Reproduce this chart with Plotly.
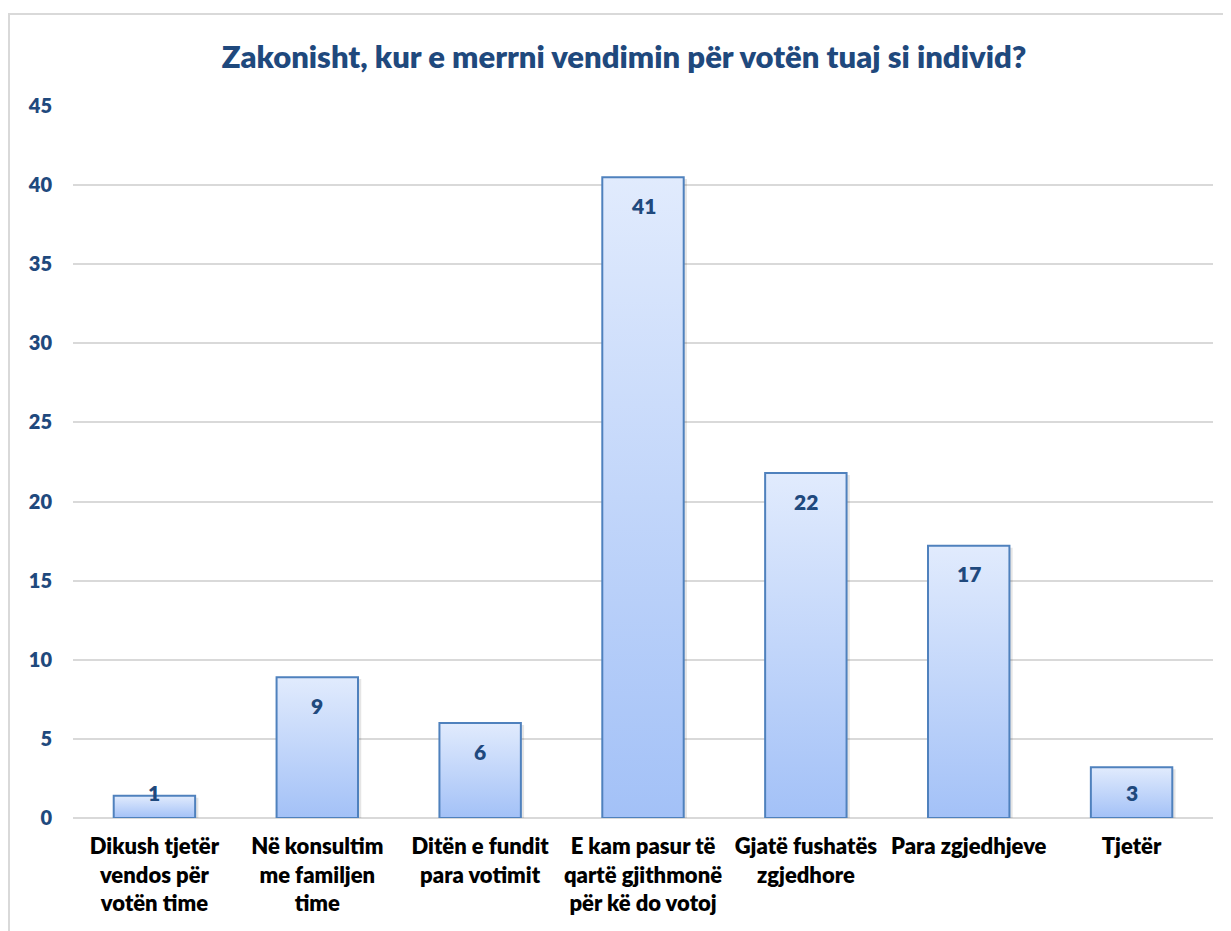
import plotly.graph_objects as go

categories = [
    "Dikush tjetër<br>vendos për<br>votën time",
    "Në konsultim<br>me familjen<br>time",
    "Ditën e fundit<br>para votimit",
    "E kam pasur të<br>qartë gjithmonë<br>për kë do votoj",
    "Gjatë fushatës<br>zgjedhore",
    "Para zgjedhjeve",
    "Tjetër",
]
values = [1.4, 8.9, 6.0, 40.5, 21.8, 17.2, 3.2]
labels = ["1", "9", "6", "41", "22", "17", "3"]
y_ticks = [0, 5, 10, 15, 20, 25, 30, 35, 40, 45]
title_text = "Zakonisht, kur e merrni vendimin për votën tuaj si individ?"

DARK_BLUE = "#1F497D"
BORDER = "#4F81BD"
GRID = "#D9D9D9"
FONT = "Lato"
WEIGHT = 800
BAR_W = 0.5

W, H = 1223, 923

fig = go.Figure()
for i, v in enumerate(values):
    x0, x1 = i - BAR_W / 2, i + BAR_W / 2
    # subtle shadow
    fig.add_trace(go.Scatter(
        x=[x0 + 0.02, x0 + 0.02, x1 + 0.02, x1 + 0.02, x0 + 0.02],
        y=[0, v - 0.12, v - 0.12, 0, 0],
        fill="toself", fillcolor="rgba(0,0,0,0.10)",
        line=dict(width=0), mode="lines", hoverinfo="skip", showlegend=False,
    ))
    fig.add_trace(go.Scatter(
        x=[x0, x0, x1, x1, x0],
        y=[0, v, v, 0, 0],
        fill="toself",
        fillgradient=dict(type="vertical",
                          colorscale=[[0, "#A3C1F7"], [1, "#E1EBFD"]]),
        line=dict(color=BORDER, width=2),
        mode="lines", hoverinfo="skip", showlegend=False,
    ))
    fig.add_annotation(
        x=i, y=max(v - 1.77, 1.64), text=labels[i], showarrow=False,
        xanchor="center", yanchor="middle",
        font=dict(family=FONT, size=21, color=DARK_BLUE, weight=WEIGHT),
    )

fig.update_layout(
    width=W, height=H,
    paper_bgcolor="white", plot_bgcolor="white",
    margin=dict(l=65, r=18, t=98, b=113),
    title=dict(text=title_text, x=616 / W, xref="container", xanchor="center",
               y=1 - 49 / H, yref="container", yanchor="middle",
               font=dict(family=FONT, size=31, color=DARK_BLUE, weight=WEIGHT)),
    xaxis=dict(range=[-0.5, len(values) - 0.5], tickmode="array",
               tickvals=list(range(len(values))), ticktext=categories,
               showgrid=False, zeroline=False, showline=False, ticks="",
               ticklabelstandoff=13,
               tickfont=dict(family=FONT, size=22, color="black", weight=WEIGHT),
               fixedrange=True),
    yaxis=dict(range=[0, 45], tickmode="array", tickvals=y_ticks,
               showgrid=True, gridcolor=GRID, gridwidth=2,
               zeroline=True, zerolinecolor=GRID, zerolinewidth=2,
               showline=False, ticks="", ticklabelstandoff=20,
               tickfont=dict(family=FONT, size=20, color=DARK_BLUE, weight=WEIGHT)),
    showlegend=False,
)

# chart border (light gray frame)
fig.add_shape(type="rect", xref="paper", yref="paper",
              x0=(9 - 73) / 1140, x1=(1245 - 73) / 1140,
              y0=(818 - 945) / 712, y1=(818 - 14) / 712,
              line=dict(color=GRID, width=2), fillcolor="rgba(0,0,0,0)", layer="below")

fig.write_html("out.html")
